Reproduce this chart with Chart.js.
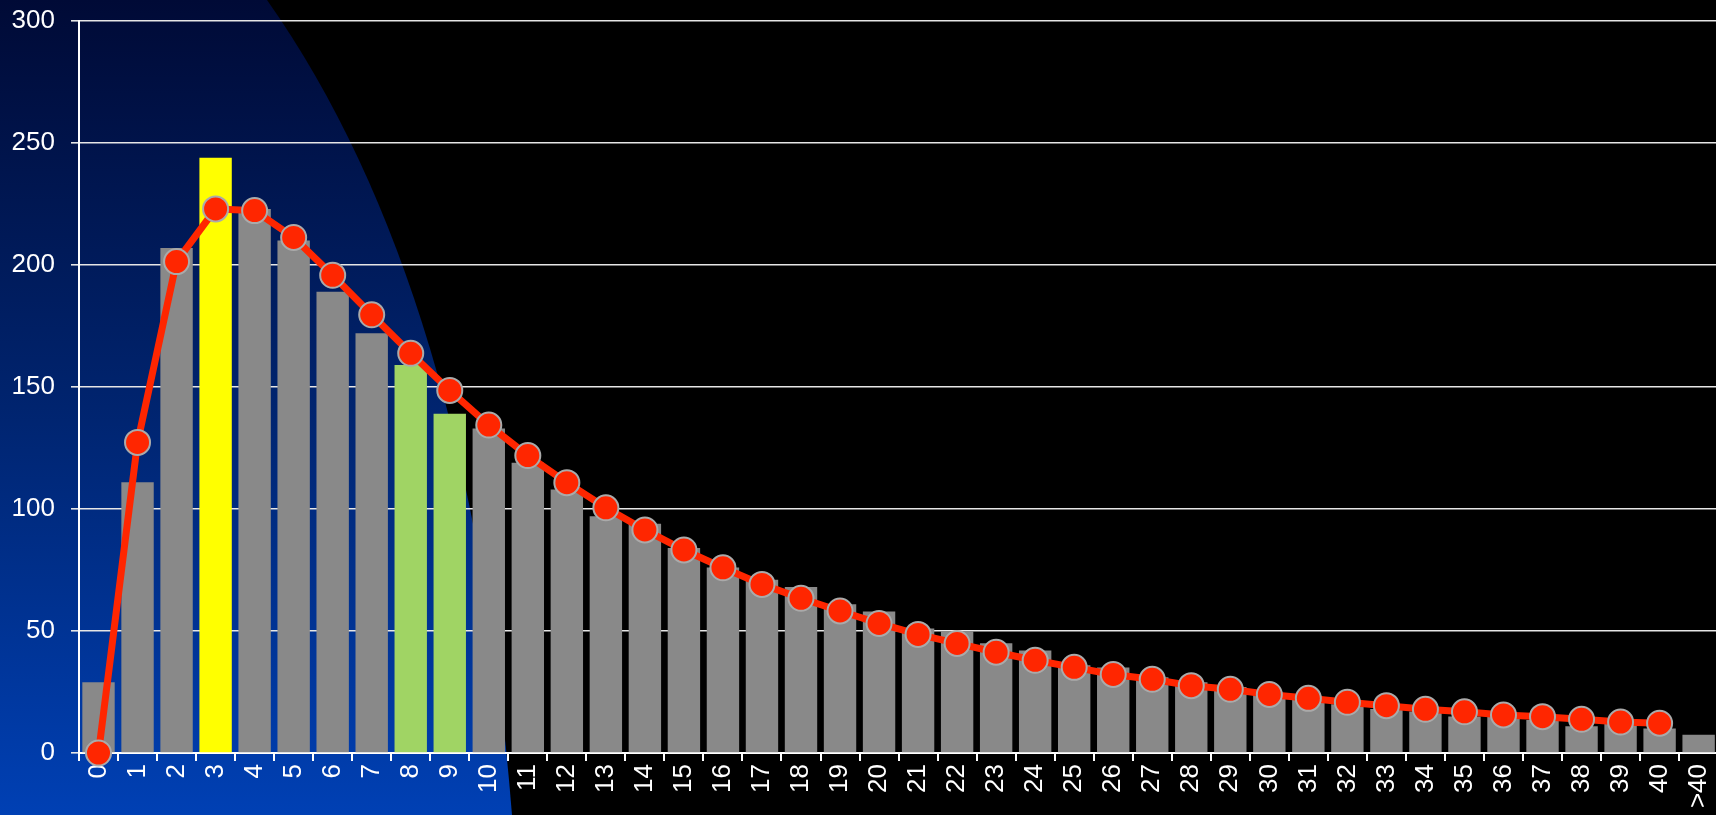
<!DOCTYPE html>
<html>
<head>
<meta charset="utf-8">
<script src="https://cdn.jsdelivr.net/npm/chart.js@4.4.1/dist/chart.umd.min.js"></script>
<style>
    html, body { margin: 0; padding: 0; background: #000; overflow: hidden; }
    #wrap { width: 1733px; height: 815px; }
</style>
</head>
<body>
<div id="wrap"><canvas id="histChart"></canvas></div>
<script>
// =====================================================
// Data
// =====================================================
const categories = ['0', '1', '2', '3', '4', '5', '6', '7', '8', '9', '10',
    '11', '12', '13', '14', '15', '16', '17', '18', '19', '20',
    '21', '22', '23', '24', '25', '26', '27', '28', '29', '30',
    '31', '32', '33', '34', '35', '36', '37', '38', '39', '40', '>40'];

const barValues = [29, 111, 207, 244, 223, 210, 189, 172, 159, 139, 133,
    119, 108, 97, 94, 84, 76, 71, 68, 61, 58,
    51, 50, 45, 42, 36, 35, 31, 29, 27, 24,
    22, 20, 18, 17, 15, 15, 13.5, 11, 12, 10, 7.5];

const lineValues = [0, 127.3, 201.4, 223, 222.3, 211.3, 195.8, 179.6, 163.8, 148.6, 134.4,
    121.9, 110.8, 100.5, 91.4, 83.2, 75.9, 69.1, 63.4, 58.2, 53.1,
    48.6, 44.9, 41.3, 38.0, 35.1, 32.2, 30.2, 27.6, 26.1, 24.0,
    22.4, 20.8, 19.4, 17.9, 16.9, 15.6, 14.9, 13.8, 12.7, 12.2, null];

const yTicks = [0, 50, 100, 150, 200, 250, 300];

// Categories that get a highlight colour
const yellowCats = ['3'];
const greenCats = ['8', '9'];

// =====================================================
// Per-bar colours
// =====================================================
const barColors = categories.map(c => {
    if (yellowCats.includes(c)) return '#ffff00';
    if (greenCats.includes(c)) return '#a0d464';
    return '#898989';
});

// =====================================================
// Background: black, with a blue gradient swoosh on the left
// =====================================================
const backgroundPlugin = {
    id: 'swooshBackground',
    beforeDraw(chart) {
        const ctx = chart.ctx;
        const w = chart.width, h = chart.height;
        ctx.save();
        ctx.fillStyle = '#000';
        ctx.fillRect(0, 0, w, h);
        const grad = ctx.createLinearGradient(0, 0, 0, h);
        grad.addColorStop(0, '#000a36');
        grad.addColorStop(0.5, '#00246f');
        grad.addColorStop(1, '#0040b4');
        ctx.fillStyle = grad;
        ctx.beginPath();
        ctx.moveTo(0, 0);
        ctx.lineTo(267, 0);
        ctx.quadraticCurveTo(470, 288, 512, h);
        ctx.lineTo(0, h);
        ctx.closePath();
        ctx.fill();
        ctx.restore();
    }
};

const labelFont = { family: "'Liberation Sans', Arial, sans-serif", size: 26 };

const ctx = document.getElementById('histChart').getContext('2d');
new Chart(ctx, {
    type: 'bar',
    data: {
        labels: categories,
        datasets: [
            {
                type: 'line',
                data: lineValues,
                order: 0,
                borderColor: '#ff2600',
                borderWidth: 7,
                pointRadius: 12.5,
                pointBorderWidth: 2,
                pointBorderColor: '#aaaaaa',
                pointBackgroundColor: '#ff2600',
                tension: 0,
                clip: false,
                spanGaps: false
            },
            {
                type: 'bar',
                data: barValues,
                order: 1,
                backgroundColor: barColors,
                borderWidth: 0,
                barPercentage: 0.83,
                categoryPercentage: 1.0
            }
        ]
    },
    options: {
        responsive: true,
        maintainAspectRatio: false,
        animation: false,
        layout: { padding: { top: 21, right: 0, left: 0, bottom: 0 } },
        plugins: {
            legend: { display: false },
            tooltip: { enabled: false }
        },
        scales: {
            x: {
                offset: true,
                grid: {
                    offset: true,
                    drawOnChartArea: false,
                    drawTicks: true,
                    tickLength: 8,
                    color: '#ffffff',
                    lineWidth: 2
                },
                border: { display: true, color: '#ffffff', width: 2 },
                ticks: {
                    color: '#ffffff',
                    font: labelFont,
                    autoSkip: false,
                    minRotation: 90,
                    maxRotation: 90,
                    padding: 3
                },
                afterFit: scale => { scale.height = 62; }
            },
            y: {
                min: 0,
                max: 300,
                afterBuildTicks: scale => { scale.ticks = yTicks.map(v => ({ value: v })); },
                grid: {
                    color: '#e6e6e6',
                    lineWidth: 1.6,
                    drawTicks: true,
                    tickLength: 8
                },
                border: { display: true, color: '#ffffff', width: 2 },
                ticks: {
                    color: '#ffffff',
                    font: labelFont,
                    padding: 16
                },
                afterFit: scale => {
                    scale.width = 79;
                    scale.paddingTop = 0;
                    scale.paddingBottom = 0;
                }
            }
        }
    },
    plugins: [backgroundPlugin]
});
</script>
</body>
</html>
